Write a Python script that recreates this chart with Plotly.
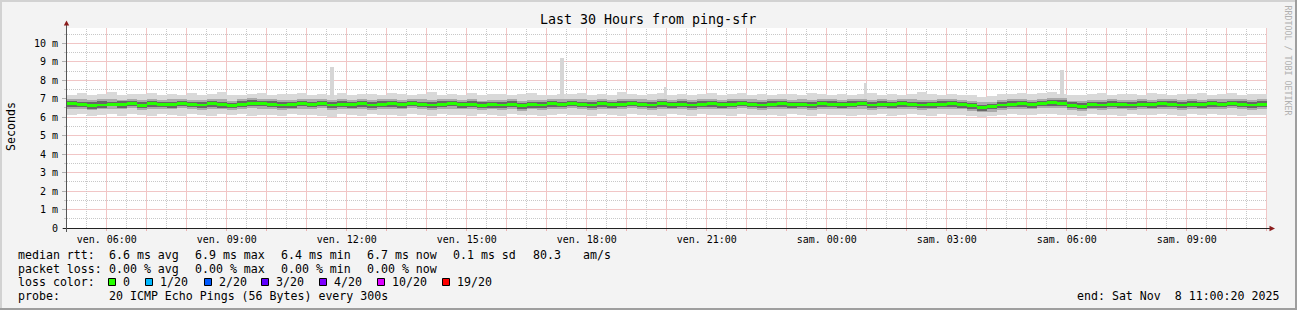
import math
import pandas as pd
import plotly.graph_objects as go

# ---------------- data (ms) ----------------
start = "2025-11-07 05:00:20"
end = "2025-11-08 11:00:20"

median_ms = [
    6.72, 6.70, 6.62, 6.66, 6.70, 6.68, 6.74, 6.65, 6.72, 6.70,
    6.68, 6.74, 6.70, 6.66, 6.72, 6.68, 6.64, 6.70, 6.76, 6.72,
    6.70, 6.66, 6.68, 6.72, 6.70, 6.74, 6.66, 6.70, 6.68, 6.72,
    6.66, 6.70, 6.72, 6.68, 6.74, 6.70, 6.66, 6.70, 6.72, 6.68,
    6.70, 6.64, 6.68, 6.66, 6.70, 6.62, 6.68, 6.66, 6.72, 6.70,
    6.74, 6.70, 6.66, 6.72, 6.68, 6.70, 6.74, 6.70, 6.66, 6.72,
    6.68, 6.70, 6.66, 6.70, 6.72, 6.68, 6.70, 6.74, 6.70, 6.66,
    6.70, 6.72, 6.68, 6.70, 6.66, 6.72, 6.70, 6.68, 6.70, 6.72,
    6.66, 6.70, 6.68, 6.72, 6.70, 6.66, 6.68, 6.70, 6.72, 6.68,
    6.62, 6.50, 6.56, 6.66, 6.70, 6.72, 6.68, 6.74, 6.78, 6.76,
    6.64, 6.60, 6.68, 6.66, 6.70, 6.68, 6.66, 6.70, 6.68, 6.72,
    6.70, 6.66, 6.70, 6.68, 6.72, 6.70, 6.74, 6.70, 6.66, 6.70,
]
max_ms = [
    7.22, 7.30, 7.18, 7.26, 7.34, 7.20, 7.28, 7.24, 7.32, 7.18,
    7.26, 7.22, 7.30, 7.20, 7.28, 7.36, 7.22, 7.18, 7.26, 7.30,
    7.20, 7.28, 7.24, 7.32, 7.18, 7.26, 7.22, 7.30, 7.20, 7.28,
    7.24, 7.18, 7.30, 7.26, 7.22, 7.28, 7.34, 7.20, 7.26, 7.22,
    7.30, 7.18, 7.24, 7.28, 7.20, 7.26, 7.32, 7.22, 7.18, 7.28,
    7.24, 7.30, 7.20, 7.26, 7.22, 7.34, 7.28, 7.18, 7.24, 7.30,
    7.22, 7.28, 7.18, 7.26, 7.32, 7.20, 7.24, 7.30, 7.22, 7.26,
    7.18, 7.28, 7.24, 7.20, 7.30, 7.26, 7.22, 7.28, 7.18, 7.24,
    7.30, 7.22, 7.26, 7.20, 7.28, 7.34, 7.24, 7.18, 7.26, 7.22,
    7.20, 7.12, 7.16, 7.24, 7.28, 7.32, 7.26, 7.30, 7.36, 7.28,
    7.22, 7.18, 7.26, 7.30, 7.20, 7.28, 7.24, 7.22, 7.30, 7.26,
    7.20, 7.28, 7.24, 7.30, 7.22, 7.26, 7.32, 7.20, 7.26, 7.24,
]
min_ms = [
    6.10, 6.18, 6.05, 6.14, 6.20, 6.08, 6.16, 6.12, 6.04, 6.18,
    6.14, 6.08, 6.20, 6.12, 6.06, 6.16, 6.10, 6.18, 6.08, 6.14,
    6.12, 6.06, 6.18, 6.10, 6.14, 6.04, 6.02, 6.16, 6.12, 6.08,
    6.18, 6.10, 6.14, 6.06, 6.16, 6.12, 6.08, 6.20, 6.10, 6.14,
    6.08, 6.16, 6.12, 6.04, 6.18, 6.10, 6.14, 6.06, 6.12, 6.16,
    6.10, 6.14, 6.08, 6.18, 6.12, 6.06, 6.16, 6.10, 6.14, 6.08,
    6.16, 6.12, 6.06, 6.18, 6.10, 6.14, 6.08, 6.16, 6.12, 6.10,
    6.14, 6.08, 6.18, 6.12, 6.06, 6.16, 6.10, 6.14, 6.04, 6.12,
    6.10, 6.16, 6.08, 6.14, 6.18, 6.10, 6.06, 6.16, 6.12, 6.14,
    6.08, 6.00, 6.04, 6.12, 6.16, 6.10, 6.14, 6.18, 6.20, 6.14,
    6.12, 6.06, 6.16, 6.10, 6.14, 6.08, 6.18, 6.12, 6.10, 6.16,
    6.14, 6.08, 6.16, 6.12, 6.18, 6.10, 6.14, 6.06, 6.12, 6.10,
]
upper_ms = [
    6.96, 6.98, 6.92, 6.96, 7.00, 6.94, 6.98, 6.94, 7.00, 6.92,
    6.96, 6.98, 6.94, 6.92, 6.98, 6.96, 6.90, 6.96, 7.02, 6.98,
    6.96, 6.92, 6.94, 6.98, 6.96, 7.00, 6.92, 6.96, 6.94, 6.98,
    6.92, 6.96, 6.98, 6.94, 7.00, 6.96, 6.92, 6.96, 6.98, 6.94,
    6.96, 6.90, 6.94, 6.92, 6.96, 6.90, 6.94, 6.92, 6.98, 6.96,
    7.00, 6.96, 6.92, 6.98, 6.94, 6.96, 7.00, 6.96, 6.92, 6.98,
    6.94, 6.96, 6.92, 6.96, 6.98, 6.94, 6.96, 7.00, 6.96, 6.92,
    6.96, 6.98, 6.94, 6.96, 6.92, 6.98, 6.96, 6.94, 6.96, 6.98,
    6.92, 6.96, 6.94, 6.98, 6.96, 6.92, 6.94, 6.96, 6.98, 6.94,
    6.88, 6.80, 6.84, 6.92, 6.96, 6.98, 6.94, 7.00, 7.04, 7.02,
    6.90, 6.86, 6.94, 6.92, 6.96, 6.94, 6.92, 6.96, 6.94, 6.98,
    6.96, 6.92, 6.96, 6.94, 6.98, 6.96, 7.00, 6.96, 6.92, 6.96,
]
lower_ms = [
    6.46, 6.44, 6.38, 6.42, 6.46, 6.44, 6.50, 6.40, 6.46, 6.44,
    6.42, 6.48, 6.44, 6.40, 6.46, 6.42, 6.38, 6.44, 6.50, 6.46,
    6.44, 6.40, 6.42, 6.46, 6.44, 6.48, 6.40, 6.44, 6.42, 6.46,
    6.40, 6.44, 6.46, 6.42, 6.48, 6.44, 6.40, 6.44, 6.46, 6.42,
    6.44, 6.38, 6.42, 6.40, 6.44, 6.36, 6.42, 6.40, 6.46, 6.44,
    6.48, 6.44, 6.40, 6.46, 6.42, 6.44, 6.48, 6.44, 6.40, 6.46,
    6.42, 6.44, 6.40, 6.44, 6.46, 6.42, 6.44, 6.48, 6.44, 6.40,
    6.44, 6.46, 6.42, 6.44, 6.40, 6.46, 6.44, 6.42, 6.44, 6.46,
    6.40, 6.44, 6.42, 6.46, 6.44, 6.40, 6.42, 6.44, 6.46, 6.42,
    6.36, 6.26, 6.30, 6.40, 6.44, 6.46, 6.42, 6.48, 6.52, 6.50,
    6.38, 6.34, 6.42, 6.40, 6.44, 6.42, 6.40, 6.44, 6.42, 6.46,
    6.44, 6.40, 6.44, 6.42, 6.46, 6.44, 6.48, 6.44, 6.40, 6.44,
]
core_hi_ms = [
    6.88, 6.84, 6.80, 6.86, 6.82, 6.88, 6.90, 6.80, 6.86, 6.84,
    6.84, 6.90, 6.82, 6.80, 6.88, 6.84, 6.78, 6.86, 6.92, 6.86,
    6.86, 6.80, 6.84, 6.88, 6.82, 6.90, 6.80, 6.86, 6.82, 6.88,
    6.82, 6.86, 6.88, 6.82, 6.90, 6.84, 6.80, 6.86, 6.88, 6.82,
    6.86, 6.80, 6.84, 6.80, 6.86, 6.78, 6.84, 6.82, 6.88, 6.84,
    6.90, 6.84, 6.80, 6.88, 6.82, 6.86, 6.90, 6.84, 6.80, 6.88,
    6.82, 6.86, 6.80, 6.86, 6.88, 6.82, 6.86, 6.90, 6.84, 6.80,
    6.86, 6.88, 6.82, 6.84, 6.80, 6.88, 6.86, 6.82, 6.86, 6.88,
    6.80, 6.86, 6.82, 6.88, 6.84, 6.80, 6.84, 6.86, 6.88, 6.82,
    6.76, 6.64, 6.70, 6.82, 6.86, 6.88, 6.84, 6.90, 6.94, 6.92,
    6.80, 6.76, 6.84, 6.80, 6.86, 6.82, 6.80, 6.86, 6.82, 6.88,
    6.86, 6.80, 6.86, 6.82, 6.88, 6.84, 6.90, 6.86, 6.80, 6.86,
]
core_lo_ms = [
    6.56, 6.54, 6.46, 6.52, 6.58, 6.50, 6.60, 6.50, 6.56, 6.54,
    6.52, 6.58, 6.56, 6.50, 6.56, 6.52, 6.48, 6.54, 6.60, 6.58,
    6.54, 6.50, 6.52, 6.58, 6.54, 6.60, 6.50, 6.56, 6.52, 6.56,
    6.50, 6.56, 6.56, 6.52, 6.60, 6.54, 6.50, 6.54, 6.58, 6.52,
    6.54, 6.48, 6.52, 6.50, 6.56, 6.46, 6.52, 6.50, 6.56, 6.54,
    6.58, 6.54, 6.50, 6.56, 6.52, 6.54, 6.58, 6.56, 6.50, 6.56,
    6.52, 6.54, 6.50, 6.54, 6.56, 6.52, 6.56, 6.58, 6.54, 6.50,
    6.54, 6.56, 6.52, 6.56, 6.50, 6.56, 6.54, 6.52, 6.54, 6.58,
    6.50, 6.54, 6.52, 6.56, 6.54, 6.50, 6.52, 6.56, 6.56, 6.52,
    6.46, 6.36, 6.42, 6.50, 6.54, 6.56, 6.52, 6.58, 6.62, 6.60,
    6.48, 6.46, 6.52, 6.50, 6.54, 6.52, 6.50, 6.54, 6.52, 6.56,
    6.54, 6.50, 6.54, 6.52, 6.56, 6.54, 6.58, 6.54, 6.50, 6.54,
]

spike_times = ["2025-11-07 11:37:50", "2025-11-07 17:22:50", "2025-11-07 19:57:50",
               "2025-11-08 00:57:50", "2025-11-08 05:52:50"]
spike_ms = [8.73, 9.22, 7.65, 7.85, 8.54]
spike_base_ms = [7.0, 7.0, 7.0, 7.0, 7.0]

y_tick_vals = [0, 1, 2, 3, 4, 5, 6, 7, 8, 9, 10]
y_tick_text = ["0", "1 m", "2 m", "3 m", "4 m", "5 m", "6 m", "7 m", "8 m", "9 m", "10 m"]
y_minor_vals = [0.5, 1.5, 2.5, 3.5, 4.5, 5.5, 6.5, 7.5, 8.5, 9.5, 10.5]

x_tick_vals = list(pd.date_range("2025-11-07 06:00:00", "2025-11-08 11:00:00", freq="1h"))
x_half_vals = list(pd.date_range("2025-11-07 05:30:00", "2025-11-08 10:30:00", freq="1h"))
x_label_text = {
    "2025-11-07 06:00": "ven. 06:00", "2025-11-07 09:00": "ven. 09:00",
    "2025-11-07 12:00": "ven. 12:00", "2025-11-07 15:00": "ven. 15:00",
    "2025-11-07 18:00": "ven. 18:00", "2025-11-07 21:00": "ven. 21:00",
    "2025-11-08 00:00": "sam. 00:00", "2025-11-08 03:00": "sam. 03:00",
    "2025-11-08 06:00": "sam. 06:00", "2025-11-08 09:00": "sam. 09:00",
}
x_tick_text = [x_label_text.get(t.strftime("%Y-%m-%d %H:%M"), "") for t in x_tick_vals]

loss_labels = ["0", "1/20", "2/20", "3/20", "4/20", "10/20", "19/20"]
loss_colors = ["#26ff00", "#00b8ff", "#0059ff", "#5e00ff", "#7e00ff", "#dd00ff", "#ff0000"]

# ---------------- geometry ----------------
W, H = 1297, 310
L, R, T, B = 67, 30, 28, 82
PW, PH = W - L - R, H - T - B
YMAX = 10.83
T0, T1 = pd.Timestamp(start), pd.Timestamp(end)


def px(x):
    return (x - L) / PW


def py(y):
    return (H - B - y) / PH


def ypix(v):  # value -> crisp pixel row centre
    return math.floor(H - B - v * PH / YMAX) + 0.5


def xpix(t):  # time -> crisp pixel column centre
    return math.floor(L + (t - T0) / (T1 - T0) * PW) + 0.5


n = len(median_ms)
step = pd.Timedelta(minutes=15)
centers = [T0 + step * (i + 0.5) for i in range(n)]
bar_w = step.total_seconds() * 1000

FONT = "DejaVu Sans Mono"

fig = go.Figure()


def band(x, lo, hi, color, width):
    fig.add_trace(go.Bar(x=x, base=lo, y=[h - l for h, l in zip(hi, lo)], width=width,
                         marker=dict(color=color, line=dict(width=0)), hoverinfo="skip"))


band(centers, min_ms, max_ms, "#d9d9d9", bar_w)
band(pd.to_datetime(spike_times), spike_base_ms, spike_ms, "#d6d6d6", 300000)
band(centers, lower_ms, upper_ms, "#aaaaaa", bar_w)
band(centers, core_lo_ms, core_hi_ms, "#686868", bar_w)
# median line (green = no loss), ~3 px thick
band(centers, [m - 0.08 for m in median_ms], [m + 0.08 for m in median_ms], "#26ff00", bar_w)

fig.update_layout(
    width=W, height=H,
    margin=dict(l=L, r=R, t=T, b=B, pad=0),
    paper_bgcolor="#f3f3f3", plot_bgcolor="#ffffff",
    showlegend=False, barmode="overlay", bargap=0,
    font=dict(family=FONT, size=10, color="#000000"),
    xaxis=dict(
        type="date", range=[start, end],
        tickmode="array", tickvals=x_tick_vals, ticktext=x_tick_text,
        tickfont=dict(family=FONT, size=10, color="#000000"),
        ticks="outside", ticklen=2, tickcolor="#eab0b0", tickangle=0,
        showgrid=False, showline=False, zeroline=False, fixedrange=True,
    ),
    yaxis=dict(
        range=[0, YMAX],
        tickmode="array", tickvals=y_tick_vals, ticktext=y_tick_text,
        tickfont=dict(family=FONT, size=10, color="#000000"),
        ticks="outside", ticklen=4, tickcolor="#b0b0b0", ticklabelstandoff=2,
        minor=dict(tickmode="array", tickvals=y_minor_vals, ticks="outside", ticklen=2,
                   tickcolor="#c8c8c8", showgrid=False),
        showgrid=False, showline=False, zeroline=False, fixedrange=True,
    ),
)

shapes = []
major_grid = "#f1c6c6"   # solid pale red reads like rrdtool's red dotted grid
minor_grid = "#c8c8c8"
DOT = "1px,1px"

# grid lines (crisp)
for v in y_minor_vals:
    y = ypix(v)
    shapes.append(dict(type="line", xref="paper", yref="paper", x0=px(L), x1=px(L + PW),
                       y0=py(y), y1=py(y), line=dict(color=minor_grid, width=1, dash=DOT), layer="below"))
for v in y_tick_vals[1:]:
    y = ypix(v)
    shapes.append(dict(type="line", xref="paper", yref="paper", x0=px(L), x1=px(L + PW),
                       y0=py(y), y1=py(y), line=dict(color=major_grid, width=1), layer="below"))
for t in x_half_vals:
    x = xpix(t)
    shapes.append(dict(type="line", xref="paper", yref="paper", x0=px(x), x1=px(x),
                       y0=0, y1=1, line=dict(color=minor_grid, width=1, dash=DOT), layer="below"))
for t in x_tick_vals:
    x = xpix(t)
    shapes.append(dict(type="line", xref="paper", yref="paper", x0=px(x), x1=px(x),
                       y0=0, y1=1, line=dict(color=major_grid, width=1), layer="below"))

# frame of the image (3D look)
shapes.append(dict(type="rect", xref="paper", yref="paper", x0=px(0), x1=px(W), y0=py(0), y1=py(2),
                   fillcolor="#d2d2d2", line=dict(width=0), layer="above"))
shapes.append(dict(type="rect", xref="paper", yref="paper", x0=px(0), x1=px(2), y0=py(0), y1=py(H),
                   fillcolor="#d2d2d2", line=dict(width=0), layer="above"))
shapes.append(dict(type="rect", xref="paper", yref="paper", x0=px(0), x1=px(W), y0=py(H - 2), y1=py(H),
                   fillcolor="#9e9e9e", line=dict(width=0), layer="above"))
shapes.append(dict(type="rect", xref="paper", yref="paper", x0=px(W - 2), x1=px(W), y0=py(0), y1=py(H),
                   fillcolor="#9e9e9e", line=dict(width=0), layer="above"))
# axis lines
shapes.append(dict(type="line", xref="paper", yref="paper", x0=px(63), x1=px(1270),
                   y0=py(228.5), y1=py(228.5), line=dict(color="#222222", width=1), layer="above"))
shapes.append(dict(type="line", xref="paper", yref="paper", x0=px(66.5), x1=px(66.5),
                   y0=py(232), y1=py(24), line=dict(color="#555555", width=1), layer="above"))
# arrows
shapes.append(dict(type="path", xref="paper", yref="paper",
                   path=f"M {px(66.5)} {py(20.5)} L {px(63.8)} {py(25.5)} L {px(69.2)} {py(25.5)} Z",
                   fillcolor="#8b1c1c", line=dict(width=0), layer="above"))
shapes.append(dict(type="path", xref="paper", yref="paper",
                   path=f"M {px(1275)} {py(228.5)} L {px(1269.5)} {py(225.8)} L {px(1269.5)} {py(231.2)} Z",
                   fillcolor="#8b1c1c", line=dict(width=0), layer="above"))

annotations = []


def text(x, y, s, size=11.6, anchor="left", color="#000000", angle=0):
    annotations.append(dict(xref="paper", yref="paper", x=px(x), y=py(y), text=s.replace(" ", "\u00a0"),
                            showarrow=False, xanchor=anchor, yanchor="middle", textangle=angle,
                            font=dict(family=FONT, size=size, color=color)))


text(648, 20, "Last 30 Hours from ping-sfr", size=13.3, anchor="center")
text(11, 127, "Seconds", size=11.6, anchor="center", angle=-90)
text(1287.5, 60, "RRDTOOL / TOBI OETIKER", size=8.3, anchor="center", color="#b0b0b0", angle=90)

# legend lines
row1, row2, row3, row4 = 254.5, 268.5, 281.5, 296
text(16, row1, "median rtt:")
for x, s in zip([107, 193, 279, 365, 451, 531, 581],
                ["6.6 ms avg", "6.9 ms max", "6.4 ms min", "6.7 ms now", "0.1 ms sd", "80.3", "am/s"]):
    text(x, row1, s)
text(16, row2, "packet loss:")
for x, s in zip([107, 193, 279, 365], ["0.00 % avg", "0.00 % max", "0.00 % min", "0.00 % now"]):
    text(x, row2, s)
text(16, row3, "loss color:")
box_x = [108.5, 145.5, 204.5, 261.5, 319.5, 377.5, 442.5]
for bx, lab, col in zip(box_x, loss_labels, loss_colors):
    shapes.append(dict(type="rect", xref="paper", yref="paper", x0=px(bx), x1=px(bx + 7),
                       y0=py(285.5), y1=py(278.5), fillcolor=col,
                       line=dict(color="#000000", width=1), layer="above"))
    text(bx + 12.5, row3, lab)
text(16, row4, "probe:")
text(107, row4, "20 ICMP Echo Pings (56 Bytes) every 300s")
text(1281, row4, "end: Sat Nov  8 11:00:20 2025", anchor="right")

fig.update_layout(shapes=shapes, annotations=annotations)
fig.write_html("out.html")
